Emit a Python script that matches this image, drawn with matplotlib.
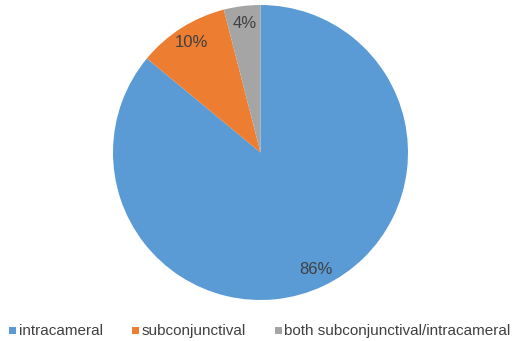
import matplotlib
matplotlib.use("Agg")
import matplotlib.pyplot as plt
from matplotlib.patches import Rectangle

plt.rcParams['font.family'] = ['Liberation Sans', 'DejaVu Sans']

# route of administration shares
labels = ['intracameral', 'subconjunctival', 'both subconjunctival/intracameral']
shares = [86, 10, 4]
colors = ['#5B9BD5', '#ED7D31', '#A5A5A5']

fig = plt.figure(figsize=(5.15, 3.41), dpi=100)
ax = fig.add_axes([0, 0, 1, 1])

# pie drawn in pixel coordinates (y measured from the bottom)
cx, cy, r = 260.5, 341 - 152.5, 147.5
wedges, texts, autotexts = ax.pie(
    shares, colors=colors, startangle=90, counterclock=False,
    center=(cx, cy), radius=r, autopct='%d%%', pctdistance=0.88,
    textprops={'fontsize': 12, 'color': '#404040'},
    wedgeprops={'linewidth': 0},
)
ax.set_aspect('equal')
ax.set_xlim(0, 515)
ax.set_ylim(0, 341)
ax.axis('off')

# legend row along the bottom edge
key_x = [9, 132, 275]
for x0, lab, col in zip(key_x, labels, colors):
    ax.add_patch(Rectangle((x0, 7), 7, 7, facecolor=col, edgecolor='none'))
    ax.text(x0 + 9.5, 6, lab, fontsize=11, color='#404040',
            ha='left', va='baseline')

fig.savefig('out.png', dpi=100)
